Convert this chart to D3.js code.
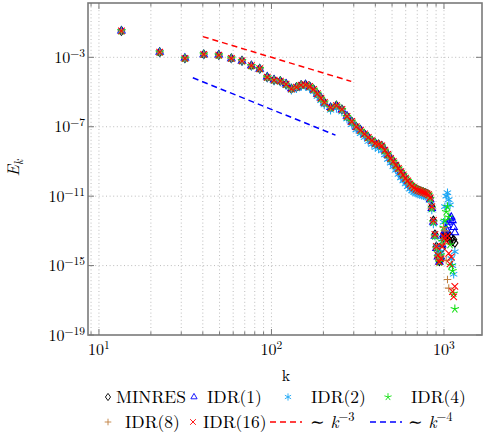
<!DOCTYPE html>
<html><head><meta charset="utf-8">
<script src="https://cdn.jsdelivr.net/npm/d3@7"></script>
<style>
body{margin:0;background:#fff}
svg{display:block}
text{font-family:"Latin Modern Roman","CMU Serif","Liberation Serif","DejaVu Serif",serif;fill:#000}
</style>
</head><body><svg id="c" width="484" height="433"></svg>
<script>
// wavenumbers k (shared by all series)
const kValues = [13.5, 22.5, 31.5, 40.5, 49.5, 58.5, 67.5, 76.5, 85.5, 94.5,
  103.5, 112.5, 121.5, 130.5, 139.5, 148.5, 157.5, 166.5, 175.5, 184.5,
  193.5, 202.5, 220, 238, 256, 274, 292, 310, 328, 346,
  364, 382, 400, 418, 436, 454, 472, 490, 508, 526,
  544, 562, 580, 598, 616, 634, 652, 670, 688, 706,
  724, 742, 760, 778, 796, 814, 832, 850, 868, 886,
  904, 922, 940, 958, 976, 994, 1012, 1030, 1048, 1066,
  1084, 1102, 1120, 1138, 1156];

// log10(E_k), one array per solver
const minresLog = [-1.48, -2.71, -3.06, -2.83, -2.87, -3.06, -3.20, -3.48, -3.66, -4.15,
  -4.31, -4.37, -4.55, -4.82, -4.72, -4.60, -4.58, -4.68, -4.85, -5.10,
  -5.35, -5.60, -5.90, -5.78, -6.00, -6.40, -6.70, -7.00, -7.20, -7.42,
  -7.62, -7.80, -7.96, -8.02, -8.10, -8.35, -8.60, -8.82, -9.00, -9.21,
  -9.40, -9.59, -9.78, -9.97, -10.12, -10.30, -10.42, -10.52, -10.60, -10.66,
  -10.70, -10.74, -10.78, -10.82, -10.86, -10.92, -11.10, -11.60, -12.40, -13.20,
  -13.90, -14.40, -14.75, -14.60, -14.00, -13.40, -13.20, -13.30, -13.40, -13.50,
  -13.30, -13.40, -13.60, -13.50, -13.70];
const idr1Log = [-1.47, -2.70, -3.05, -2.84, -2.86, -3.07, -3.21, -3.47, -3.67, -4.13,
  -4.30, -4.39, -4.53, -4.80, -4.74, -4.62, -4.57, -4.70, -4.87, -5.12,
  -5.33, -5.62, -5.88, -5.80, -6.02, -6.38, -6.72, -7.02, -7.18, -7.44,
  -7.60, -7.82, -7.95, -8.04, -8.12, -8.33, -8.62, -8.80, -9.02, -9.20,
  -9.42, -9.60, -9.76, -9.99, -10.14, -10.28, -10.44, -10.55, -10.62, -10.68,
  -10.72, -10.76, -10.80, -10.85, -10.88, -10.95, -11.20, -11.70, -12.50, -13.30,
  -14.00, -14.50, -14.80, -14.50, -13.80, -13.20, -13.00, -12.90, -12.70, -12.50,
  -12.30, -12.20, -12.40, -12.80, -13.10];
const idr2Log = [-1.49, -2.72, -3.07, -2.85, -2.88, -3.08, -3.24, -3.52, -3.70, -4.20,
  -4.36, -4.42, -4.62, -4.90, -4.82, -4.70, -4.68, -4.80, -4.98, -5.25,
  -5.50, -5.75, -6.05, -5.95, -6.15, -6.55, -6.88, -7.18, -7.40, -7.62,
  -7.85, -8.02, -8.20, -8.28, -8.38, -8.62, -8.88, -9.10, -9.30, -9.50,
  -9.75, -9.95, -10.12, -10.30, -10.45, -10.60, -10.70, -10.78, -10.84, -10.88,
  -10.92, -10.95, -10.98, -11.01, -11.04, -11.08, -11.25, -11.80, -12.60, -13.30,
  -13.90, -14.30, -14.50, -14.20, -13.50, -12.50, -11.60, -11.00, -10.80, -11.20,
  -11.50, -14.60, -15.00, -15.50, -14.20];
const idr4Log = [-1.48, -2.70, -3.06, -2.82, -2.87, -3.05, -3.20, -3.49, -3.65, -4.14,
  -4.32, -4.36, -4.56, -4.81, -4.71, -4.61, -4.59, -4.67, -4.84, -5.08,
  -5.36, -5.58, -5.91, -5.77, -6.01, -6.42, -6.69, -6.98, -7.21, -7.40,
  -7.63, -7.79, -7.95, -8.00, -8.12, -8.36, -8.58, -8.83, -8.99, -9.22,
  -9.38, -9.58, -9.77, -9.96, -10.10, -10.28, -10.40, -10.50, -10.58, -10.64,
  -10.68, -10.72, -10.76, -10.80, -10.84, -10.90, -11.15, -11.70, -12.50, -13.30,
  -14.00, -14.50, -14.80, -14.40, -13.60, -12.80, -12.40, -11.90, -11.60, -12.20,
  -13.80, -15.00, -15.30, -16.60, -17.50];
const idr8Log = [-1.48, -2.71, -3.05, -2.84, -2.88, -3.06, -3.19, -3.48, -3.67, -4.16,
  -4.30, -4.38, -4.54, -4.83, -4.73, -4.59, -4.58, -4.69, -4.86, -5.11,
  -5.34, -5.61, -5.89, -5.79, -5.99, -6.41, -6.71, -7.01, -7.19, -7.43,
  -7.61, -7.81, -7.97, -8.03, -8.09, -8.34, -8.61, -8.81, -9.01, -9.20,
  -9.41, -9.58, -9.79, -9.98, -10.11, -10.31, -10.43, -10.53, -10.61, -10.67,
  -10.71, -10.75, -10.79, -10.83, -10.87, -10.93, -11.12, -11.65, -12.45, -13.25,
  -13.95, -14.45, -14.70, -14.50, -13.80, -12.80, -13.00, -14.70, -15.80, -16.30];
const idr16Log = [-1.48, -2.70, -3.06, -2.83, -2.87, -3.06, -3.20, -3.48, -3.66, -4.15,
  -4.31, -4.37, -4.55, -4.81, -4.72, -4.60, -4.58, -4.68, -4.85, -5.10,
  -5.35, -5.60, -5.90, -5.78, -6.00, -6.40, -6.70, -7.00, -7.20, -7.42,
  -7.62, -7.80, -7.96, -8.02, -8.10, -8.35, -8.60, -8.82, -9.00, -9.21,
  -9.40, -9.59, -9.78, -9.97, -10.12, -10.30, -10.42, -10.52, -10.60, -10.66,
  -10.70, -10.74, -10.78, -10.82, -10.86, -10.92, -11.10, -11.60, -12.40, -13.20,
  -13.90, -14.40, -14.78, -14.60, -13.90, -13.30, -13.40, -13.60, -13.30, -14.30,
  -14.90, -14.50, -16.50, -16.80, -16.20];

// reference slopes (end points)
const refK3 = [40, 290];
const refE3 = [1.5625e-2, 4.1e-5];
const refK4 = [35, 235];
const refE4 = [6.66e-5, 3.28e-8];

// tick labels
const xTickValues = [10, 100, 1000];
const xTickExps = ["1", "2", "3"];
const yTickValues = [1e-3, 1e-7, 1e-11, 1e-15, 1e-19];
const yTickExps = ["\u22123", "\u22127", "\u221211", "\u221215", "\u221219"];

const seriesNames = ["MINRES", "IDR(1)", "IDR(2)", "IDR(4)", "IDR(8)", "IDR(16)"];
const seriesLogs = [minresLog, idr1Log, idr2Log, idr4Log, idr8Log, idr16Log];
const seriesColors = ["#000000", "#0000ff", "#1aa6f5", "#10e010", "#bf8040", "#ff0000"];
const seriesMarkers = ["diamond", "triangle", "asterisk", "star", "plus", "times"];

// ---------------------------------------------------------------
const svg = d3.select("#c");
const L = 88, R = 482, T = 3, B = 335;
const x = d3.scaleLog().domain([8.64, 1661]).range([L, R]);
const y = d3.scaleLog().domain([1e-19, 1.35]).range([B, T]);

function markerPath(type, r) {
  const p = d3.path();
  if (type === "diamond") {
    p.moveTo(0, -r); p.lineTo(0.72 * r, 0); p.lineTo(0, r); p.lineTo(-0.72 * r, 0); p.closePath();
  } else if (type === "triangle") {
    p.moveTo(0, -r); p.lineTo(0.866 * r, 0.5 * r); p.lineTo(-0.866 * r, 0.5 * r); p.closePath();
  } else if (type === "asterisk") {
    [90, 30, -30].forEach(a => {
      const c = Math.cos(a * Math.PI / 180) * r, s = Math.sin(a * Math.PI / 180) * r;
      p.moveTo(-c, -s); p.lineTo(c, s);
    });
  } else if (type === "star") {
    for (let i = 0; i < 5; i++) {
      const a = (-90 + 72 * i) * Math.PI / 180;
      p.moveTo(0, 0); p.lineTo(Math.cos(a) * r, Math.sin(a) * r);
    }
  } else if (type === "plus") {
    p.moveTo(-r, 0); p.lineTo(r, 0); p.moveTo(0, -r); p.lineTo(0, r);
  } else if (type === "times") {
    const d = r * 0.75;
    p.moveTo(-d, -d); p.lineTo(d, d); p.moveTo(-d, d); p.lineTo(d, -d);
  }
  return p.toString();
}
const markerSize = {diamond: 4.3, triangle: 4.3, asterisk: 4.2, star: 4.4, plus: 3.8, times: 4.4};
const legendSize = {diamond: 3.6, triangle: 3.6, asterisk: 3.6, star: 3.8, plus: 3.3, times: 3.8};

// grid
const gx = [9].concat(d3.range(1, 10).map(m => m * 10), d3.range(1, 10).map(m => m * 100), [1000]);
const grid = svg.append("g").attr("stroke", "#b4b4b4").attr("stroke-width", 0.9).attr("stroke-dasharray", "1,2.6");
grid.selectAll("line.gx").data(gx).join("line")
  .attr("x1", d => x(d)).attr("x2", d => x(d)).attr("y1", T).attr("y2", B);
grid.selectAll("line.gy").data(yTickValues.slice(0, 4)).join("line")
  .attr("x1", L).attr("x2", R).attr("y1", d => y(d)).attr("y2", d => y(d));

// reference lines
svg.append("line").attr("x1", x(refK3[0])).attr("y1", y(refE3[0])).attr("x2", x(refK3[1])).attr("y2", y(refE3[1]))
  .attr("stroke", "#ff0000").attr("stroke-width", 1.5).attr("stroke-dasharray", "6,4");
svg.append("line").attr("x1", x(refK4[0])).attr("y1", y(refE4[0])).attr("x2", x(refK4[1])).attr("y2", y(refE4[1]))
  .attr("stroke", "#0000ff").attr("stroke-width", 1.5).attr("stroke-dasharray", "6,4");

// series
const plotG = svg.append("g");
seriesLogs.forEach((vals, si) => {
  const pts = vals.map((v, i) => ({k: kValues[i], e: Math.pow(10, v)}));
  const path = markerPath(seriesMarkers[si], markerSize[seriesMarkers[si]]);
  plotG.append("g").selectAll("path").data(pts).join("path")
    .attr("d", path)
    .attr("transform", d => `translate(${x(d.k)},${y(d.e)})`)
    .attr("fill", "none").attr("stroke", seriesColors[si]).attr("stroke-width", 1.05);
});

// frame & ticks
const axisColor = "#7a7a7a";
const tk = svg.append("g").attr("stroke", axisColor).attr("stroke-width", 1);
const xMinor = gx.filter(d => !xTickValues.includes(d));
xMinor.forEach(d => {
  tk.append("line").attr("x1", x(d)).attr("x2", x(d)).attr("y1", B).attr("y2", B - 3.5);
  tk.append("line").attr("x1", x(d)).attr("x2", x(d)).attr("y1", T).attr("y2", T + 3.5);
});
xTickValues.forEach(d => {
  tk.append("line").attr("x1", x(d)).attr("x2", x(d)).attr("y1", B).attr("y2", B - 6);
  tk.append("line").attr("x1", x(d)).attr("x2", x(d)).attr("y1", T).attr("y2", T + 6);
});
yTickValues.forEach(d => {
  tk.append("line").attr("x1", L).attr("x2", L + 6).attr("y1", y(d)).attr("y2", y(d));
  tk.append("line").attr("x1", R).attr("x2", R - 6).attr("y1", y(d)).attr("y2", y(d));
});
svg.append("rect").attr("x", L).attr("y", T).attr("width", R - L).attr("height", B - T)
  .attr("fill", "none").attr("stroke", axisColor).attr("stroke-width", 1.6);

// tick labels
xTickValues.forEach((d, i) => {
  const t = svg.append("text").attr("x", x(d)).attr("y", 355).attr("text-anchor", "middle").attr("font-size", 16);
  t.append("tspan").text("10");
  t.append("tspan").attr("dy", -6).attr("font-size", 11.5).text(xTickExps[i]);
});
yTickValues.forEach((d, i) => {
  const t = svg.append("text").attr("x", 85).attr("y", y(d) + 5.5).attr("text-anchor", "end").attr("font-size", 16);
  t.append("tspan").text("10");
  t.append("tspan").attr("dy", -6).attr("font-size", 11.5).text(yTickExps[i]);
});

// axis titles
svg.append("text").attr("x", 286).attr("y", 381).attr("text-anchor", "middle").attr("font-size", 16).text("k");
const yl = svg.append("text").attr("transform", "translate(19,168) rotate(-90)").attr("text-anchor", "middle").attr("font-size", 17);
yl.append("tspan").attr("font-style", "italic").text("E");
yl.append("tspan").attr("font-style", "italic").attr("font-size", 12).attr("dy", 4).text("k");

// legend
const legendItems = [
  {row: 0, mx: 108, tx: 116, si: 0},
  {row: 0, mx: 194, tx: 207, si: 1},
  {row: 0, mx: 288, tx: 311, si: 2},
  {row: 0, mx: 388, tx: 411, si: 3},
  {row: 1, mx: 108, tx: 125, si: 4},
  {row: 1, mx: 193, tx: 203, si: 5}
];
const rowY = [397, 422];
legendItems.forEach(it => {
  const m = seriesMarkers[it.si];
  svg.append("path").attr("d", markerPath(m, legendSize[m]))
    .attr("transform", `translate(${it.mx},${rowY[it.row]})`)
    .attr("fill", "none").attr("stroke", seriesColors[it.si]).attr("stroke-width", 0.9);
  svg.append("text").attr("x", it.tx).attr("y", rowY[it.row] + 5.5).attr("font-size", 17.5).text(seriesNames[it.si]);
});
const refLegend = [
  {x1: 270, x2: 302, tx: 310, color: "#ff0000", exp: "\u22123"},
  {x1: 370, x2: 402, tx: 408, color: "#0000ff", exp: "\u22124"}
];
refLegend.forEach(r => {
  svg.append("line").attr("x1", r.x1).attr("x2", r.x2).attr("y1", rowY[1]).attr("y2", rowY[1])
    .attr("stroke", r.color).attr("stroke-width", 1.5).attr("stroke-dasharray", "6,4");
  const t = svg.append("text").attr("x", r.tx).attr("y", rowY[1] + 5.5).attr("font-size", 17.5);
  t.append("tspan").text("\u223c ");
  t.append("tspan").attr("font-style", "italic").text("k");
  t.append("tspan").attr("dy", -7).attr("font-size", 12.5).text(r.exp);
});
</script>
</body></html>
